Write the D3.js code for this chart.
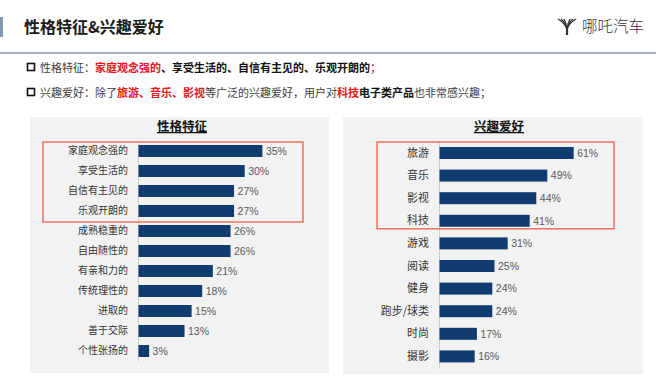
<!DOCTYPE html>
<html>
<head>
<meta charset="utf-8">
<script src="https://cdn.jsdelivr.net/npm/d3@7"></script>
<style>
  body { margin: 0; background: #fff; }
  svg { display: block; font-family: "Liberation Sans", Arial, "Noto Sans CJK SC", sans-serif; }
</style>
</head>
<body>
<div id="chart"></div>
<script>
// datos
const xingge = ["家庭观念强的", "享受生活的", "自信有主见的", "乐观开朗的", "成熟稳重的", "自由随性的",
    "有亲和力的", "传统理性的", "进取的", "善于交际", "个性张扬的"];
const xinggeVal = [35, 30, 27, 27, 26, 26, 21, 18, 15, 13, 3];

const xingqu = ["旅游", "音乐", "影视", "科技", "游戏", "阅读", "健身", "跑步/球类", "时尚", "摄影"];
const xingquVal = [61, 49, 44, 41, 31, 25, 24, 24, 17, 16];

const linea1 = [
    { t: "性格特征：", w: "normal", c: "#404040" },
    { t: "家庭观念强的", w: "bold", c: "#e8141b" },
    { t: "、享受生活的、自信有主见的、乐观开朗的", w: "bold", c: "#111" },
    { t: "；", w: "normal", c: "#404040" }
];
const linea2 = [
    { t: "兴趣爱好：除了", w: "normal", c: "#404040" },
    { t: "旅游、音乐、影视", w: "bold", c: "#e8141b" },
    { t: "等广泛的兴趣爱好，用户对", w: "normal", c: "#404040" },
    { t: "科技", w: "bold", c: "#e8141b" },
    { t: "电子类产品", w: "bold", c: "#111" },
    { t: "也非常感兴趣；", w: "normal", c: "#404040" }
];

const W = 660, H = 377;
const svg = d3.select("#chart").append("svg")
    .attr("width", W)
    .attr("height", H);

// Cabecera
svg.append("rect").attr("x", 0).attr("y", 17).attr("width", 3).attr("height", 20).attr("fill", "#8496b0");
svg.append("text").attr("x", 24).attr("y", 33)
    .attr("font-size", 16).attr("font-weight", "bold").attr("fill", "#1a1a1a")
    .style("font-family", "'Noto Sans CJK SC', sans-serif")
    .text("性格特征&兴趣爱好");
svg.append("rect").attr("x", 0).attr("y", 52).attr("width", 656).attr("height", 2).attr("fill", "#a9b3c0");

// Logo (Y estilizada)
const logo = svg.append("g").attr("transform", "translate(567, 26)")
    .attr("fill", "none").attr("stroke", "#333").attr("stroke-width", 1.3);
[-9, -6, -3].forEach(dx => {
    logo.append("path").attr("d", `M${dx},-7 Q${dx * 0.25},-3 0,3`);
    logo.append("path").attr("d", `M${-dx},-7 Q${-dx * 0.25},-3 0,3`);
});
logo.append("path").attr("d", "M0,2 L0,9").attr("stroke-width", 2.2);
svg.append("text").attr("x", 582).attr("y", 32)
    .attr("font-size", 15.5).attr("fill", "#333")
    .style("font-family", "'Noto Sans CJK SC', sans-serif").style("font-weight", 300)
    .text("哪吒汽车");

// Texto de resumen
function lineaTexto(partes, y) {
    svg.append("rect").attr("x", 27.5).attr("y", y - 4.5).attr("width", 7).attr("height", 7)
        .attr("fill", "none").attr("stroke", "#111").attr("stroke-width", 1.6);
    const t = svg.append("text").attr("x", 40).attr("y", y + 3.5).attr("font-size", 11)
        .style("font-family", "'Noto Sans CJK SC', sans-serif");
    partes.forEach(p => {
        t.append("tspan").attr("font-weight", p.w).attr("fill", p.c).text(p.t);
    });
}
lineaTexto(linea1, 68);
lineaTexto(linea2, 93);

// Gráficos de barras
function crearBarras(cfg) {
    const g = svg.append("g");

    g.append("rect").attr("x", cfg.panel[0]).attr("y", 117)
        .attr("width", cfg.panel[1] - cfg.panel[0]).attr("height", cfg.panel[2] - 117)
        .attr("fill", "#f2f2f2");

    g.append("text").attr("x", cfg.tituloX).attr("y", 131)
        .attr("text-anchor", "middle").attr("font-size", 12.5).attr("font-weight", "bold")
        .attr("fill", "#111").style("text-decoration", "underline")
        .style("font-family", "'Noto Sans CJK SC', sans-serif")
        .text(cfg.titulo);

    const x = d3.scaleLinear().domain([0, cfg.max]).range(cfg.xRange);
    const y = d3.scaleBand().domain(cfg.cats).range(cfg.yRange)
        .paddingInner(cfg.pad).paddingOuter(cfg.pad / 2);

    const eje = g.append("g")
        .attr("transform", `translate(${x(0)}, 0)`)
        .call(d3.axisLeft(y).tickSize(0).tickSizeOuter(0).tickPadding(10));
    eje.select(".domain").attr("stroke", "#d0d0d0");
    eje.selectAll("text").attr("font-size", cfg.fs).attr("fill", "#333")
        .style("font-family", "'Noto Sans CJK SC', sans-serif");

    g.selectAll(".bar")
        .data(cfg.vals)
        .enter()
        .append("rect")
        .attr("x", x(0) + 0.5)
        .attr("y", (d, i) => y(cfg.cats[i]))
        .attr("width", d => x(d) - x(0))
        .attr("height", y.bandwidth())
        .attr("fill", "#103c70");

    g.selectAll(".valor")
        .data(cfg.vals)
        .enter()
        .append("text")
        .attr("x", d => x(d) + 4)
        .attr("y", (d, i) => y(cfg.cats[i]) + y.bandwidth() / 2 + 3.7)
        .attr("font-size", 10.5).attr("fill", "#595959")
        .text(d => d + "%");

    // recuadro de los cuatro primeros
    const top = y(cfg.cats[0]) + cfg.box[2];
    const bottom = y(cfg.cats[3]) + y.bandwidth() + cfg.box[3];
    g.append("rect").attr("x", cfg.box[0]).attr("y", top)
        .attr("width", cfg.box[1] - cfg.box[0]).attr("height", bottom - top)
        .attr("fill", "none").attr("stroke", "#e9735c").attr("stroke-width", 1.5);
}

crearBarras({
    titulo: "性格特征", tituloX: 182, panel: [30, 329, 373],
    cats: xingge, vals: xinggeVal, max: 40, xRange: [138, 279.6],
    yRange: [141, 361], pad: 0.4, fs: 10, box: [43, 303, -3, 5]
});

crearBarras({
    titulo: "兴趣爱好", tituloX: 499, panel: [343, 643, 374],
    cats: xingqu, vals: xingquVal, max: 70, xRange: [439, 593],
    yRange: [141.7, 367.7], pad: 0.47, fs: 11, box: [377, 614, -5, 2]
});
</script>
</body>
</html>
